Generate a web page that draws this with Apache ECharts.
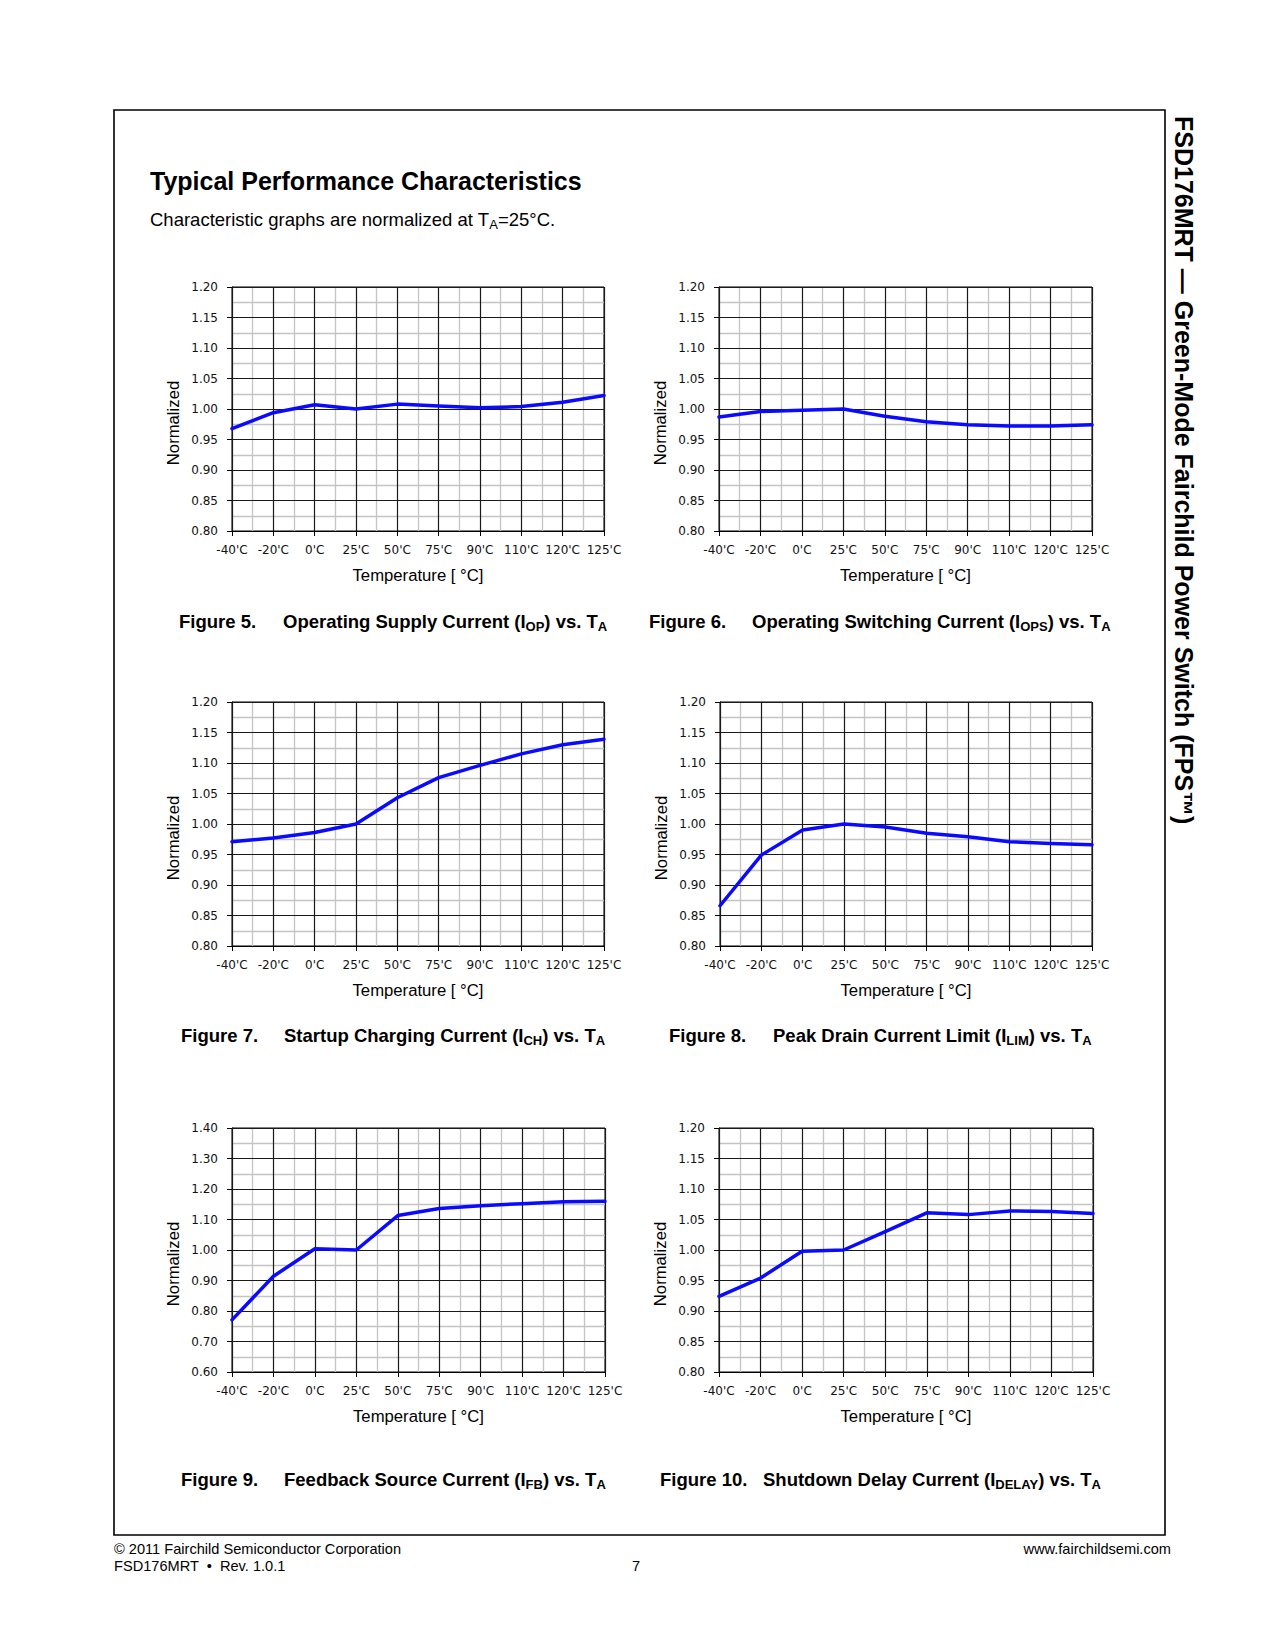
<!DOCTYPE html>
<html>
<head>
<meta charset="utf-8">
<script src="https://cdn.jsdelivr.net/npm/echarts@6/dist/echarts.min.js"></script>
<style>
html,body{margin:0;padding:0;background:#fff;}
#chart{width:1275px;height:1650px;}
</style>
</head>
<body>
<div id="chart"></div>
<script>
// ---- data ----
const temps = ["-40'C", "-20'C", "0'C", "25'C", "50'C", "75'C", "90'C", "110'C", "120'C", "125'C"];
const fig5 = [0.968, 0.994, 1.007, 1.000, 1.008, 1.005, 1.002, 1.004, 1.011, 1.022];
const fig6 = [0.987, 0.996, 0.998, 1.000, 0.988, 0.979, 0.974, 0.972, 0.972, 0.974];
const fig7 = [0.971, 0.977, 0.986, 1.000, 1.043, 1.076, 1.096, 1.115, 1.130, 1.139];
const fig8 = [0.866, 0.949, 0.990, 1.000, 0.995, 0.985, 0.979, 0.971, 0.968, 0.966];
const fig9 = [0.771, 0.914, 1.004, 1.000, 1.113, 1.136, 1.145, 1.152, 1.158, 1.160];
const fig10 = [0.924, 0.954, 0.998, 1.000, 1.030, 1.061, 1.058, 1.064, 1.063, 1.060];
const yMins = [0.80, 0.80, 0.80, 0.80, 0.60, 0.80];
const yMaxs = [1.20, 1.20, 1.20, 1.20, 1.40, 1.20];
const yIntervals = [0.05, 0.05, 0.05, 0.05, 0.10, 0.05];
const figNumbers = ["Figure 5.", "Figure 6.", "Figure 7.", "Figure 8.", "Figure 9.", "Figure 10."];
const figTitles = [
  "Operating Supply Current (I{s|OP}) vs. T{s|A}",
  "Operating Switching Current (I{s|OPS}) vs. T{s|A}",
  "Startup Charging Current (I{s|CH}) vs. T{s|A}",
  "Peak Drain Current Limit (I{s|LIM}) vs. T{s|A}",
  "Feedback Source Current (I{s|FB}) vs. T{s|A}",
  "Shutdown Delay Current (I{s|DELAY}) vs. T{s|A}"
];
const xAxisTitle = "Temperature [ °C]";
const yAxisTitle = "Normalized";
const seriesData = [fig5, fig6, fig7, fig8, fig9, fig10];

// ---- layout ----
const grids = [
  {left: 232, top: 287, width: 372, height: 244},
  {left: 719, top: 287, width: 373, height: 244},
  {left: 232, top: 702, width: 372, height: 244},
  {left: 720, top: 702, width: 372, height: 244},
  {left: 232, top: 1128, width: 373, height: 244},
  {left: 719, top: 1128, width: 374, height: 244}
];
const capPos = [
  [179, 283, 621], [649, 752, 621],
  [181, 284, 1035], [669, 773, 1035],
  [181, 284, 1479], [660, 763, 1479]
];

const MAJOR = '#1a1a1a', MINOR = '#c4c4c4';
const LBL = {color: '#111', fontFamily: 'DejaVu Sans', fontSize: 12};

const chart = echarts.init(document.getElementById('chart'), null, {renderer: 'svg'});

const xAxes = [], yAxes = [], series = [];
grids.forEach((g, i) => {
  xAxes.push({
    gridIndex: i, type: 'category', data: temps, boundaryGap: false, z: 3,
    axisLine: {show: true, onZero: false, lineStyle: {color: '#000', width: 1}},
    axisTick: {show: true, interval: 0, length: 5, lineStyle: {color: '#000', width: 1}},
    axisLabel: Object.assign({interval: 0, margin: 13}, LBL),
    splitLine: {show: true, interval: 0, lineStyle: {color: MAJOR, width: 1.2}},
    name: xAxisTitle, nameLocation: 'middle', nameGap: 36,
    nameTextStyle: {fontFamily: 'Liberation Sans', fontSize: 16.7, color: '#000'}
  });
  xAxes.push({
    gridIndex: i, type: 'value', min: 0, max: 9, interval: 1, z: 1, position: 'bottom',
    axisLine: {show: false}, axisTick: {show: false}, axisLabel: {show: false},
    splitLine: {show: false},
    minorTick: {show: false, splitNumber: 2},
    minorSplitLine: {show: true, lineStyle: {color: MINOR, width: 1.3}}
  });
  yAxes.push({
    gridIndex: i, type: 'value', min: yMins[i], max: yMaxs[i], interval: yIntervals[i], z: 2,
    axisLine: {show: true, lineStyle: {color: '#000', width: 1}},
    axisTick: {show: true, length: 5, lineStyle: {color: '#000', width: 1}},
    axisLabel: Object.assign({margin: 14, formatter: v => v.toFixed(2)}, LBL),
    splitLine: {show: true, lineStyle: {color: MAJOR, width: 1.2}},
    minorTick: {show: false, splitNumber: 2},
    minorSplitLine: {show: true, lineStyle: {color: MINOR, width: 1.3}},
    name: yAxisTitle, nameLocation: 'middle', nameRotate: 90, nameGap: 50,
    nameTextStyle: {fontFamily: 'Liberation Sans', fontSize: 16.7, color: '#000', padding: [0, 28, 0, 0]}
  });
  series.push({
    type: 'line', xAxisIndex: 2 * i, yAxisIndex: i, data: seriesData[i],
    symbol: 'none', showSymbol: false, z: 10, animation: false,
    lineStyle: {color: '#0a0aff', width: 3.5, join: 'round', cap: 'round'}
  });
});

const capFont = 'Liberation Sans';
const subRich = {s: {fontFamily: capFont, fontWeight: 'bold', fontSize: 13, fill: '#000', verticalAlign: 'top', padding: [11, 0, 0, 0]}};

function txt(x, y, text, extra) {
  return Object.assign({
    type: 'text', x: x, y: y, z: 100,
    style: Object.assign({
      text: text, fill: '#000',
      align: 'left', verticalAlign: 'middle', textAlign: 'left', textVerticalAlign: 'middle'
    }, extra || {})
  });
}

const graphics = [];
graphics.push({type: 'rect', z: 100, shape: {x: 114, y: 110, width: 1051, height: 1425},
  style: {fill: 'none', stroke: '#000', lineWidth: 1.6}});
graphics.push(txt(150, 181, 'Typical Performance Characteristics',
  {fontFamily: capFont, fontWeight: 'bold', fontSize: 25}));
graphics.push(txt(150, 219, 'Characteristic graphs are normalized at T{s|A}=25°C.',
  {fontFamily: capFont, fontSize: 18.5,
   rich: {s: {fontFamily: capFont, fontSize: 13, fill: '#000', verticalAlign: 'top', padding: [11, 0, 0, 0]}}}));
capPos.forEach((p, i) => {
  graphics.push(txt(p[0], p[2], figNumbers[i], {fontFamily: capFont, fontWeight: 'bold', fontSize: 18.5}));
  graphics.push(txt(p[1], p[2], figTitles[i], {fontFamily: capFont, fontWeight: 'bold', fontSize: 18.5, rich: subRich}));
});
// vertical side title
graphics.push({type: 'text', x: 1184, y: 116, rotation: -Math.PI / 2, z: 100,
  style: {text: 'FSD176MRT — Green-Mode Fairchild Power Switch (FPS™)', fill: '#000',
    fontFamily: capFont, fontWeight: 'bold', fontSize: 25,
    align: 'left', verticalAlign: 'middle', textAlign: 'left', textVerticalAlign: 'middle'}});
// footer
graphics.push(txt(114, 1549, '© 2011 Fairchild Semiconductor Corporation', {fontFamily: capFont, fontSize: 14.6}));
graphics.push(txt(114, 1566, 'FSD176MRT  •  Rev. 1.0.1', {fontFamily: capFont, fontSize: 14.6}));
graphics.push(txt(636, 1566, '7', {fontFamily: capFont, fontSize: 14.6, align: 'center', textAlign: 'center'}));
graphics.push(txt(1171, 1549, 'www.fairchildsemi.com', {fontFamily: capFont, fontSize: 14.6, align: 'right', textAlign: 'right'}));

chart.setOption({
  backgroundColor: '#fff',
  animation: false,
  grid: grids.map(g => Object.assign({show: true, borderColor: '#000', borderWidth: 1, backgroundColor: 'transparent'}, g)),
  xAxis: xAxes,
  yAxis: yAxes,
  series: series,
  graphic: {elements: graphics}
});
</script>
</body>
</html>
